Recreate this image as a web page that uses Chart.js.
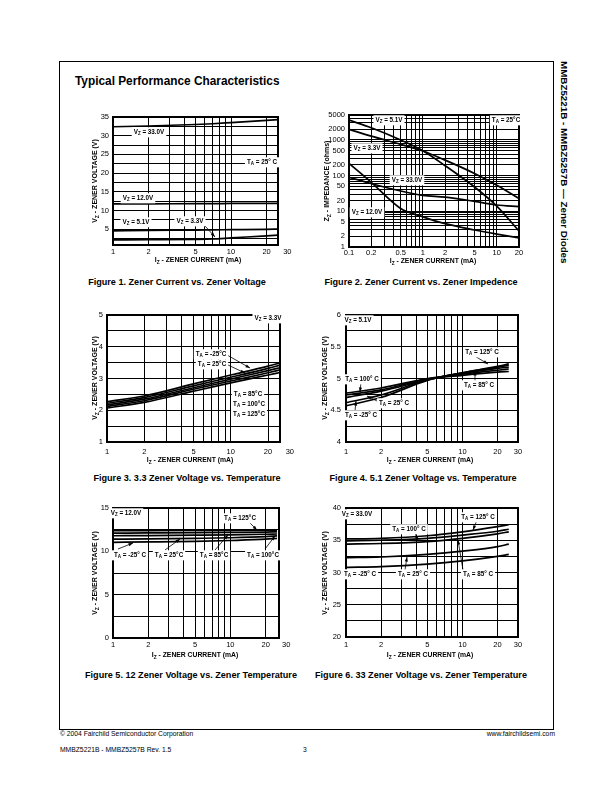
<!DOCTYPE html>
<html>
<head>
<meta charset="utf-8">
<script src="https://cdn.jsdelivr.net/npm/chart.js@4.4.1/dist/chart.umd.min.js"></script>
<style>
  html, body { margin: 0; padding: 0; background: #fff; }
  #page { position: relative; width: 612px; height: 792px; overflow: hidden; font-family: "Liberation Sans", Arial, sans-serif; color: #000; }
  .frame { position: absolute; left: 59px; top: 61px; width: 495px; height: 669px; border: 1.3px solid #000; box-sizing: border-box; }
  .t { position: absolute; white-space: nowrap; line-height: 1; }
  .cap { position: absolute; width: 300px; text-align: center; font-weight: bold; font-size: 9.1px; line-height: 10px; white-space: nowrap; }
  .plot { position: absolute; }
  .side { position: absolute; left: 570px; top: 61px; transform: rotate(90deg); transform-origin: 0 0; font-weight: bold; font-size: 9.8px; line-height: 12px; white-space: nowrap; }
</style>
</head>
<body>
<div id="page">
  <div class="frame"></div>
  <div class="side">MMBZ5221B - MMBZ5257B — Zener Diodes</div>
  <div class="t" style="left:75px;top:76px;font-weight:bold;font-size:11.85px;">Typical Performance Characteristics</div>

  <div class="plot" id="fig1"></div>
  <div class="plot" id="fig2"></div>
  <div class="plot" id="fig3"></div>
  <div class="plot" id="fig4"></div>
  <div class="plot" id="fig5"></div>
  <div class="plot" id="fig6"></div>

  <div class="cap" style="left:27px;top:277px;">Figure 1. Zener Current vs. Zener Voltage</div>
  <div class="cap" style="left:271px;top:277px;">Figure 2. Zener Current vs. Zener Impedence</div>
  <div class="cap" style="left:37px;top:473px;">Figure 3. 3.3 Zener Voltage vs. Temperature</div>
  <div class="cap" style="left:273px;top:473px;">Figure 4. 5.1 Zener Voltage vs. Temperature</div>
  <div class="cap" style="left:41px;top:670px;">Figure 5. 12 Zener Voltage vs. Zener Temperature</div>
  <div class="cap" style="left:271px;top:670px;">Figure 6. 33 Zener Voltage vs. Zener Temperature</div>

  <div class="t" style="left:60px;top:731px;font-size:6.75px;">© 2004 Fairchild Semiconductor Corporation</div>
  <div class="t" style="left:60px;top:747px;font-size:6.75px;">MMBZ5221B - MMBZ5257B Rev. 1.5</div>
  <div class="t" style="left:303px;top:747px;font-size:6.75px;">3</div>
  <div class="t" style="right:57px;top:731px;font-size:6.75px;">www.fairchildsemi.com</div>
</div>

<script>
// ---------- data ----------
// Figure 1: Vz vs Iz at 25C
const fig1Current = [1, 2, 5, 7, 10, 20, 25];
const fig1Vz33 = [32.4, 32.6, 33.0, 33.2, 33.5, 34.1, 34.3];
const fig1Vz12 = [11.8, 11.8, 11.85, 11.85, 11.9, 11.9, 11.9];
const fig1Vz51 = [4.6, 4.7, 4.8, 4.85, 4.9, 5.0, 5.05];
const fig1Vz33v = [2.15, 2.2, 2.3, 2.4, 2.7, 3.25, 3.45];

// Figure 2: impedance vs Iz
const fig2Current = [0.1, 0.2, 0.5, 1, 2, 5, 10, 20];
const fig2Z51 = [3600, 2200, 1000, 500, 190, 48, 14, 2.8];
const fig2Z33 = [1980, 1280, 750, 490, 272, 115, 54, 23];
const fig2Z33v = [90, 60, 37, 28, 25, 19, 15, 13.5];
const fig2Z12 = [220, 65, 12, 7, 4.5, 3, 2.3, 1.8];

// Figures 3-6: Vz vs Iz by temperature
const tempCurrent = [1, 2, 5, 10, 20, 25];
const fig3M25 = [2.27, 2.45, 2.83, 3.11, 3.39, 3.49];
const fig3T25 = [2.22, 2.40, 2.77, 3.04, 3.32, 3.42];
const fig3T85 = [2.17, 2.35, 2.71, 2.98, 3.25, 3.34];
const fig3T100 = [2.12, 2.30, 2.66, 2.92, 3.18, 3.27];
const fig3T125 = [2.07, 2.25, 2.60, 2.86, 3.11, 3.19];

const fig4T125 = [4.70, 4.80, 4.98, 5.09, 5.19, 5.23];
const fig4T100 = [4.77, 4.85, 5.0, 5.07, 5.13, 5.15];
const fig4T85 = [4.74, 4.82, 4.99, 5.05, 5.10, 5.11];
const fig4T25 = [4.62, 4.74, 4.98, 5.08, 5.16, 5.18];
const fig4M25 = [4.57, 4.70, 4.97, 5.09, 5.18, 5.21];

const fig5T125 = [12.4, 12.4, 12.41, 12.42, 12.44, 12.45];
const fig5T100 = [12.1, 12.12, 12.15, 12.18, 12.22, 12.25];
const fig5T85 = [11.8, 11.82, 11.86, 11.9, 11.97, 12.0];
const fig5T25 = [11.4, 11.43, 11.5, 11.57, 11.7, 11.78];
const fig5M25 = [11.04, 11.08, 11.15, 11.25, 11.4, 11.5];

const fig6T125 = [35.2, 35.3, 35.7, 36.3, 37.1, 37.4];
const fig6T100 = [34.9, 35.0, 35.3, 35.8, 36.4, 36.7];
const fig6T85 = [34.4, 34.5, 34.8, 35.3, 36.0, 36.3];
const fig6T25 = [32.3, 32.4, 32.8, 33.3, 34.0, 34.4];
const fig6M25 = [30.8, 30.9, 31.3, 31.8, 32.5, 32.8];

// ---------- ticks ----------
const currentGrid = [1, 2, 3, 4, 5, 6, 7, 8, 9, 10, 20, 30];
const currentLabels = [1, 2, 5, 10, 20, 30];
const fig2CurrentGrid = [0.1, 0.2, 0.3, 0.4, 0.5, 0.6, 0.7, 0.8, 0.9, 1, 2, 3, 4, 5, 6, 7, 8, 9, 10, 20];
const fig2CurrentLabels = [0.1, 0.2, 0.5, 1, 2, 5, 10, 20];
const ohmGrid = [1, 2, 3, 4, 5, 6, 7, 8, 9, 10, 20, 30, 40, 50, 60, 70, 80, 90,
  100, 200, 300, 400, 500, 600, 700, 800, 900, 1000, 2000, 3000, 4000, 5000];
const ohmLabels = [1, 2, 5, 10, 20, 50, 100, 200, 500, 1000, 2000, 5000];
const fig1VoltGrid = [2.5, 5, 7.5, 10, 12.5, 15, 17.5, 20, 22.5, 25, 27.5, 30, 32.5, 35];
const fig1VoltLabels = [5, 10, 15, 20, 25, 30, 35];
const fig3VoltGrid = [1, 1.5, 2, 2.5, 3, 3.5, 4, 4.5, 5];
const fig3VoltLabels = [1, 2, 3, 4, 5];
const fig4VoltGrid = [4, 4.25, 4.5, 4.75, 5, 5.25, 5.5, 5.75, 6];
const fig4VoltLabels = [4, 4.5, 5, 5.5, 6];
const fig5VoltGrid = [0, 2.5, 5, 7.5, 10, 12.5, 15];
const fig5VoltLabels = [0, 5, 10, 15];
const fig6VoltGrid = [20, 22.5, 25, 27.5, 30, 32.5, 35, 37.5, 40];
const fig6VoltLabels = [20, 25, 30, 35, 40];

// ---------- drawing helpers ----------
const FONT = '"Liberation Sans", Arial, sans-serif';
const Y_AXIS_W = 30, X_AXIS_H = 22, PAD_TOP = 8, PAD_RIGHT = 18;

function richFont(size, bold) {
  return (bold ? 'bold ' : '') + size + 'px ' + FONT;
}

// "V_Z = 5.1V" -> V, subscript Z, " = 5.1V"
function parseRich(str) {
  const runs = [];
  for (let i = 0; i < str.length; i++) {
    if (str[i] === '_') { runs.push({ t: str[i + 1], sub: true }); i++; }
    else if (runs.length && !runs[runs.length - 1].sub) runs[runs.length - 1].t += str[i];
    else runs.push({ t: str[i], sub: false });
  }
  return runs;
}

function drawRich(ctx, str, cx, cy, size, opt) {
  opt = opt || {};
  const runs = parseRich(str);
  let w = 0;
  runs.forEach(r => {
    ctx.font = richFont(r.sub ? size * 0.72 : size, true);
    r.w = ctx.measureText(r.t).width;
    w += r.w;
  });
  ctx.save();
  ctx.translate(cx, cy);
  if (opt.rotate) ctx.rotate(opt.rotate);
  if (opt.bg) {
    ctx.fillStyle = '#fff';
    ctx.fillRect(-w / 2 - 2, -size * 0.75, w + 4, size * 1.6);
  }
  ctx.fillStyle = '#000';
  ctx.textBaseline = 'middle';
  ctx.textAlign = 'left';
  let x = -w / 2;
  runs.forEach(r => {
    ctx.font = richFont(r.sub ? size * 0.72 : size, true);
    ctx.fillText(r.t, x, r.sub ? size * 0.32 : 0);
    x += r.w;
  });
  ctx.restore();
}

function drawArrow(ctx, x1, y1, x2, y2) {
  ctx.save();
  ctx.strokeStyle = '#000';
  ctx.fillStyle = '#000';
  ctx.lineWidth = 0.8;
  ctx.beginPath(); ctx.moveTo(x1, y1); ctx.lineTo(x2, y2); ctx.stroke();
  const a = Math.atan2(y2 - y1, x2 - x1), L = 4.5, W = 1.6;
  ctx.beginPath();
  ctx.moveTo(x2, y2);
  ctx.lineTo(x2 - L * Math.cos(a) + W * Math.sin(a), y2 - L * Math.sin(a) - W * Math.cos(a));
  ctx.lineTo(x2 - L * Math.cos(a) - W * Math.sin(a), y2 - L * Math.sin(a) + W * Math.cos(a));
  ctx.closePath(); ctx.fill();
  ctx.restore();
}

// frame, labels, arrows and axis titles (page coordinates)
const sheetPlugin = {
  id: 'sheet',
  afterDraw(chart, args, o) {
    const ctx = chart.ctx, a = chart.chartArea;
    const ox = o.origin[0], oy = o.origin[1];
    ctx.save();
    ctx.strokeStyle = '#000';
    ctx.lineWidth = 2;
    ctx.strokeRect(a.left, a.top, a.right - a.left, a.bottom - a.top);
    ctx.restore();
    (o.arrows || []).forEach(p => drawArrow(ctx, p[0] - ox, p[1] - oy, p[2] - ox, p[3] - oy));
    (o.notes || []).forEach(n => drawRich(ctx, n[0], n[1] - ox, n[2] - oy, 6.3, { bg: true }));
    drawRich(ctx, o.yTitle[0], o.yTitle[1] - ox, o.yTitle[2] - oy, 7, { rotate: -Math.PI / 2 });
    drawRich(ctx, o.xTitle[0], o.xTitle[1] - ox, o.xTitle[2] - oy, 6.8);
  }
};

function makeAxis(cfg, horiz) {
  return {
    type: cfg.type, min: cfg.min, max: cfg.max,
    afterBuildTicks: s => { s.ticks = cfg.grid.map(v => ({ value: v })); },
    afterFit: s => {
      if (horiz) { s.height = X_AXIS_H; s.paddingLeft = 0; s.paddingRight = 0; }
      else { s.width = Y_AXIS_W; s.paddingTop = 0; s.paddingBottom = 0; }
    },
    ticks: {
      autoSkip: false, maxRotation: 0, minRotation: 0, padding: cfg.pad, color: '#000',
      font: { family: FONT, size: 7.5 },
      callback: v => cfg.labels.includes(v) ? String(v) : ''
    },
    grid: {
      drawTicks: false, lineWidth: 1,
      color: c => (c.tick && c.tick.value > cfg.max + 1e-9) ? 'rgba(0,0,0,0)' : '#000'
    },
    border: { display: false }
  };
}

function makeChart(id, box, xCfg, yCfg, series, deco) {
  const host = document.getElementById(id);
  const ox = box.l - Y_AXIS_W, oy = box.t - PAD_TOP;
  host.style.left = ox + 'px';
  host.style.top = oy + 'px';
  host.style.width = (box.r - box.l + Y_AXIS_W + PAD_RIGHT) + 'px';
  host.style.height = (box.b - box.t + PAD_TOP + X_AXIS_H) + 'px';
  const canvas = document.createElement('canvas');
  host.appendChild(canvas);
  deco.origin = [ox, oy];
  return new Chart(canvas, {
    type: 'line',
    data: {
      datasets: series.map(s => ({
        label: s.label,
        data: s.x.map((x, i) => ({ x: x, y: s.y[i] })),
        borderColor: '#000', borderWidth: 1.7, pointRadius: 0,
        tension: 0.4, cubicInterpolationMode: 'monotone', fill: false
      }))
    },
    options: {
      responsive: true, maintainAspectRatio: false, animation: false,
      layout: { padding: { left: 0, top: PAD_TOP, right: PAD_RIGHT, bottom: 0 } },
      scales: { x: makeAxis(xCfg, true), y: makeAxis(yCfg, false) },
      plugins: { legend: { display: false }, tooltip: { enabled: false }, sheet: deco }
    },
    plugins: [sheetPlugin]
  });
}

const X_TITLE = 'I_Z - ZENER CURRENT (mA)';
const Y_TITLE = 'V_Z - ZENER VOLTAGE (V)';

// 1. Zener current vs zener voltage
makeChart('fig1', { l: 113, r: 278, t: 117, b: 245 },
  { type: 'logarithmic', min: 1, max: 25, grid: currentGrid, labels: currentLabels, pad: 2 },
  { type: 'linear', min: 0.8, max: 35, grid: fig1VoltGrid, labels: fig1VoltLabels, pad: 4 },
  [
    { label: 'Vz = 33.0V', x: fig1Current, y: fig1Vz33 },
    { label: 'Vz = 12.0V', x: fig1Current, y: fig1Vz12 },
    { label: 'Vz = 5.1V', x: fig1Current, y: fig1Vz51 },
    { label: 'Vz = 3.3V', x: fig1Current, y: fig1Vz33v }
  ],
  {
    notes: [['V_Z = 33.0V', 149, 132], ['T_A = 25° C', 262, 162], ['V_Z = 12.0V', 138, 198],
            ['V_Z = 5.1V', 136, 222], ['V_Z = 3.3V', 190, 221]],
    arrows: [[205, 226, 215, 237]],
    yTitle: [Y_TITLE, 95, 181], xTitle: [X_TITLE, 198, 260]
  });

// 2. Zener current vs zener impedance
makeChart('fig2', { l: 349, r: 519, t: 115, b: 247 },
  { type: 'logarithmic', min: 0.1, max: 20, grid: fig2CurrentGrid, labels: fig2CurrentLabels, pad: 1 },
  { type: 'logarithmic', min: 1, max: 5000, grid: ohmGrid, labels: ohmLabels, pad: 4 },
  [
    { label: 'Vz = 5.1V', x: fig2Current, y: fig2Z51 },
    { label: 'Vz = 3.3V', x: fig2Current, y: fig2Z33 },
    { label: 'Vz = 33.0V', x: fig2Current, y: fig2Z33v },
    { label: 'Vz = 12.0V', x: fig2Current, y: fig2Z12 }
  ],
  {
    notes: [['V_Z = 5.1V', 389, 120], ['T_A = 25°C', 506, 120], ['V_Z = 3.3V', 367, 148],
            ['V_Z = 33.0V', 407, 180], ['V_Z = 12.0V', 367, 212]],
    arrows: [],
    yTitle: ['Z_Z - IMPEDANCE (ohms)', 327, 181], xTitle: [X_TITLE, 433, 261]
  });

// 3. 3.3V zener voltage vs temperature
makeChart('fig3', { l: 107, r: 280, t: 315, b: 442 },
  { type: 'logarithmic', min: 1, max: 25, grid: currentGrid, labels: currentLabels, pad: 5 },
  { type: 'linear', min: 1, max: 5, grid: fig3VoltGrid, labels: fig3VoltLabels, pad: 4 },
  [
    { label: '-25C', x: tempCurrent, y: fig3M25 },
    { label: '25C', x: tempCurrent, y: fig3T25 },
    { label: '85C', x: tempCurrent, y: fig3T85 },
    { label: '100C', x: tempCurrent, y: fig3T100 },
    { label: '125C', x: tempCurrent, y: fig3T125 }
  ],
  {
    notes: [['V_Z = 3.3V', 268, 318], ['T_A = -25°C', 211, 354], ['T_A = 25°C', 212, 364],
            ['T_A = 85°C', 248, 394], ['T_A = 100°C', 249, 404], ['T_A = 125°C', 249, 414]],
    arrows: [[227, 355, 250, 368], [228, 365, 245, 373]],
    yTitle: [Y_TITLE, 95, 378], xTitle: [X_TITLE, 190, 460]
  });

// 4. 5.1V zener voltage vs temperature
makeChart('fig4', { l: 346, r: 518, t: 315, b: 442 },
  { type: 'logarithmic', min: 1, max: 30, grid: currentGrid, labels: currentLabels, pad: 5 },
  { type: 'linear', min: 4, max: 6, grid: fig4VoltGrid, labels: fig4VoltLabels, pad: 5 },
  [
    { label: '125C', x: tempCurrent, y: fig4T125 },
    { label: '100C', x: tempCurrent, y: fig4T100 },
    { label: '85C', x: tempCurrent, y: fig4T85 },
    { label: '25C', x: tempCurrent, y: fig4T25 },
    { label: '-25C', x: tempCurrent, y: fig4M25 }
  ],
  {
    notes: [['V_Z = 5.1V', 358, 320], ['T_A = 125° C', 482, 352], ['T_A = 100° C', 362, 379],
            ['T_A = 85° C', 479, 385], ['T_A = 25° C', 394, 403], ['T_A = -25° C', 361, 415]],
    arrows: [[473, 355, 488, 364], [361, 382, 360, 392], [475, 381, 475, 371],
             [379, 402, 367, 396], [355, 411, 356, 401]],
    yTitle: [Y_TITLE, 325, 378], xTitle: [X_TITLE, 430, 460]
  });

// 5. 12V zener voltage vs temperature
makeChart('fig5', { l: 113, r: 279, t: 508, b: 638 },
  { type: 'logarithmic', min: 1, max: 26, grid: currentGrid, labels: currentLabels, pad: 2.5 },
  { type: 'linear', min: 0, max: 15, grid: fig5VoltGrid, labels: fig5VoltLabels, pad: 4 },
  [
    { label: '125C', x: tempCurrent, y: fig5T125 },
    { label: '100C', x: tempCurrent, y: fig5T100 },
    { label: '85C', x: tempCurrent, y: fig5T85 },
    { label: '25C', x: tempCurrent, y: fig5T25 },
    { label: '-25C', x: tempCurrent, y: fig5M25 }
  ],
  {
    notes: [['V_Z = 12.0V', 126, 513], ['T_A = 125°C', 240, 518], ['T_A = -25° C', 130, 555],
            ['T_A = 25°C', 169, 555], ['T_A = 85°C', 214, 555], ['T_A = 100°C', 263, 555]],
    arrows: [[248, 521, 257, 530], [118, 549, 133, 543], [165, 550, 180, 539],
             [215, 550, 228, 535], [265, 549, 275, 536]],
    yTitle: [Y_TITLE, 95, 573], xTitle: [X_TITLE, 195, 655]
  });

// 6. 33V zener voltage vs temperature
makeChart('fig6', { l: 346, r: 518, t: 508, b: 637 },
  { type: 'logarithmic', min: 1, max: 30, grid: currentGrid, labels: currentLabels, pad: 3 },
  { type: 'linear', min: 20, max: 40, grid: fig6VoltGrid, labels: fig6VoltLabels, pad: 5 },
  [
    { label: '125C', x: tempCurrent, y: fig6T125 },
    { label: '100C', x: tempCurrent, y: fig6T100 },
    { label: '85C', x: tempCurrent, y: fig6T85 },
    { label: '25C', x: tempCurrent, y: fig6T25 },
    { label: '-25C', x: tempCurrent, y: fig6M25 }
  ],
  {
    notes: [['V_Z = 33.0V', 357, 514], ['T_A = 100° C', 409, 529], ['T_A = 125° C', 478, 517],
            ['T_A = -25° C', 360, 574], ['T_A = 25° C', 413, 574], ['T_A = 85° C', 478, 574]],
    arrows: [[415, 533, 418, 541], [477, 520, 473, 530], [405, 570, 407, 557], [463, 570, 458, 540]],
    yTitle: [Y_TITLE, 325, 573], xTitle: [X_TITLE, 430, 655]
  });
</script>
</body>
</html>
